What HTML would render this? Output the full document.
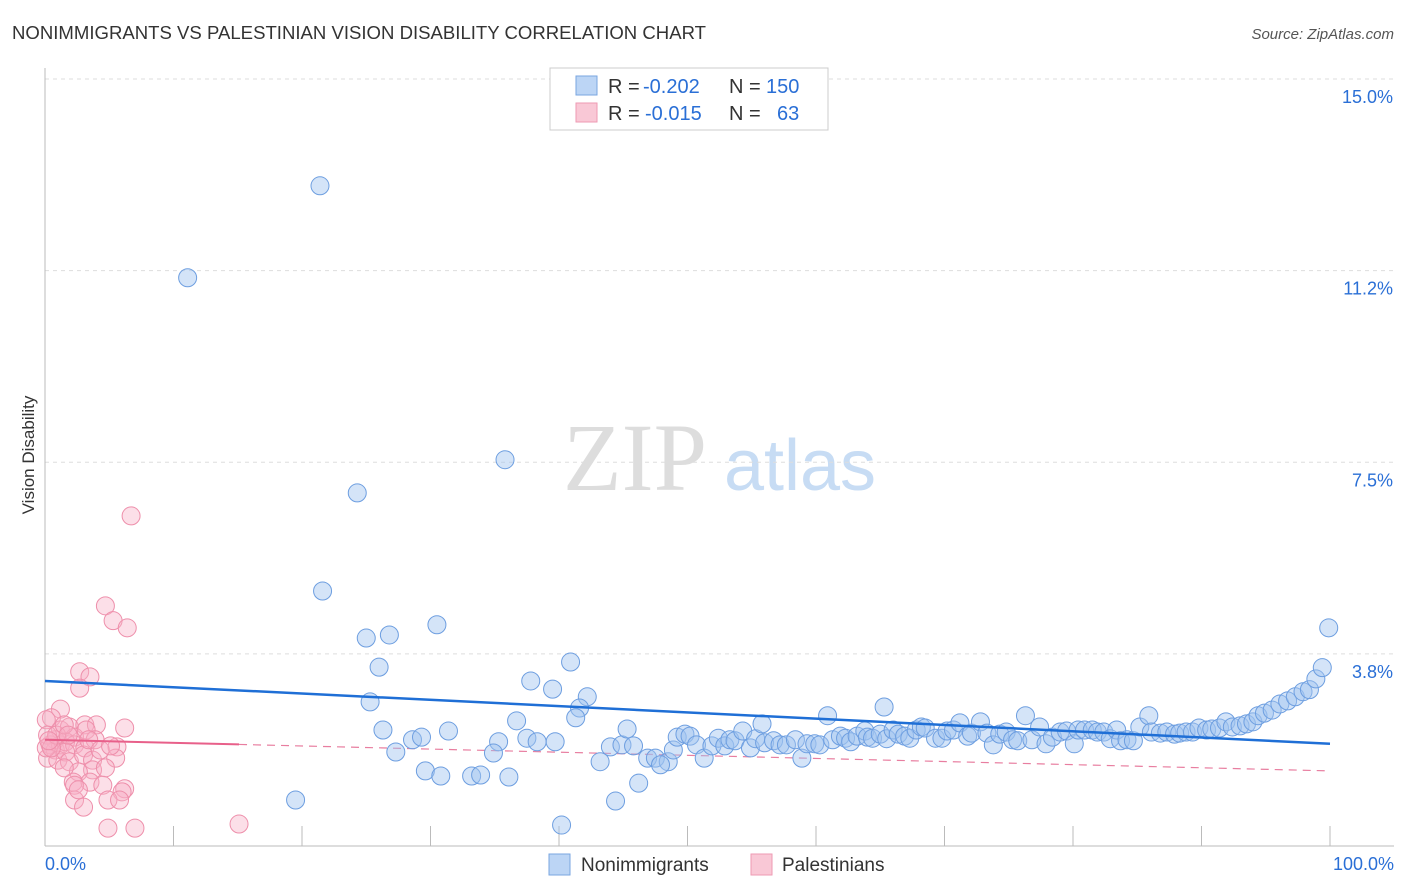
<!DOCTYPE html>
<html><head><meta charset="utf-8"><style>
body{margin:0;background:#fff;font-family:"Liberation Sans",sans-serif;}
#wrap{position:relative;width:1406px;height:892px;overflow:hidden;}
</style></head><body>
<div id="wrap">
<svg id="svg" width="1406" height="892" xmlns="http://www.w3.org/2000/svg">
<text x="12" y="39" font-size="18.5" fill="#333" textLength="694" lengthAdjust="spacingAndGlyphs">NONIMMIGRANTS VS PALESTINIAN VISION DISABILITY CORRELATION CHART</text>
<text x="1394" y="39" font-size="15" fill="#555" font-style="italic" text-anchor="end">Source: ZipAtlas.com</text>
<text transform="translate(34,455) rotate(-90)" font-size="17" fill="#333" text-anchor="middle">Vision Disability</text>
<g>
<text x="635" y="490" font-size="96" fill="#ddd" font-family="Liberation Serif,serif" text-anchor="middle">ZIP</text>
<text x="800" y="490" font-size="72" fill="#c7dcf4" text-anchor="middle">atlas</text>
</g>
<g id="grid"></g><g id="axes"></g><g id="lines"></g><g id="pink"></g><g id="blue"></g>
<g>
<rect x="550" y="68" width="278" height="62" fill="#fff" stroke="#ccc"/>
<rect x="576" y="76" width="21" height="19" fill="#bcd5f5" stroke="#7aa6e0"/>
<rect x="576" y="103" width="21" height="19" fill="#f9c8d6" stroke="#ee9ab3"/>
<text x="608" y="93" font-size="20" fill="#333">R =</text>
<text x="643" y="93" font-size="20" fill="#2a6fd6">-0.202</text>
<text x="729" y="93" font-size="20" fill="#333">N =</text>
<text x="766" y="93" font-size="20" fill="#2a6fd6">150</text>
<text x="608" y="120" font-size="20" fill="#333">R =</text>
<text x="645" y="120" font-size="20" fill="#2a6fd6">-0.015</text>
<text x="729" y="120" font-size="20" fill="#333">N =</text>
<text x="777" y="120" font-size="20" fill="#2a6fd6">63</text>
</g>
<g>
<rect x="549" y="854" width="21" height="21" fill="#bcd5f5" stroke="#7aa6e0"/>
<text x="581" y="871" font-size="19" fill="#333">Nonimmigrants</text>
<rect x="751" y="854" width="21" height="21" fill="#f9c8d6" stroke="#ee9ab3"/>
<text x="782" y="871" font-size="19" fill="#333">Palestinians</text>
</g>
</svg>
</div>
<script>
const yTicks=[3.8,7.5,11.2,15.0];
const yTickVals=[3.75,7.5,11.25,15.0];
const xTickLabels=["0.0%","100.0%"];
const blueX=[21.4,11.1,35.8,24.3,21.6,25.0,26.8,30.5,26.0,25.3,26.3,28.6,29.3,31.4,27.3,29.6,30.8,33.2,33.9,36.1,19.5,40.2,44.4,46.2,37.8,39.5,40.9,42.2,41.6,41.3,36.7,35.3,34.9,37.5,38.3,39.7,43.2,44.0,44.9,45.3,45.8,46.9,47.5,48.5,47.9,48.9,49.2,49.8,50.2,50.7,51.3,51.9,52.4,52.9,53.3,53.7,54.3,54.9,55.3,55.8,56.0,56.7,57.2,57.7,58.4,58.9,59.3,59.9,60.3,60.9,61.3,61.9,62.3,62.7,63.2,63.8,64.0,64.4,65.0,65.3,65.5,66.0,66.4,66.9,67.3,67.8,68.2,68.5,69.3,69.8,70.2,70.7,71.2,71.8,72.1,72.8,73.3,73.8,74.3,74.8,75.3,75.7,76.3,76.8,77.4,77.9,78.4,79.0,79.5,80.1,80.4,80.9,81.5,81.9,82.4,82.9,83.4,83.7,84.2,84.7,85.2,85.9,86.1,86.8,87.3,87.9,88.3,88.8,89.3,89.8,90.4,90.8,91.4,91.9,92.4,93.0,93.5,94.0,94.4,94.9,95.5,96.1,96.7,97.3,97.9,98.4,98.9,99.4,99.9];
const blueY=[12.91,11.11,7.55,6.90,4.98,4.06,4.12,4.32,3.49,2.81,2.26,2.07,2.12,2.24,1.83,1.46,1.36,1.36,1.38,1.34,0.89,0.40,0.87,1.22,3.22,3.06,3.59,2.91,2.69,2.50,2.44,2.03,1.81,2.10,2.03,2.03,1.64,1.93,1.97,2.28,1.95,1.71,1.71,1.64,1.58,1.87,2.12,2.18,2.14,1.97,1.71,1.95,2.10,1.95,2.07,2.05,2.24,1.91,2.09,2.38,2.01,2.05,1.97,1.97,2.07,1.71,1.99,1.99,1.97,2.54,2.07,2.14,2.10,2.03,2.14,2.24,2.12,2.10,2.18,2.71,2.09,2.26,2.18,2.14,2.10,2.26,2.32,2.30,2.10,2.10,2.24,2.26,2.40,2.14,2.20,2.42,2.20,1.97,2.18,2.22,2.07,2.05,2.54,2.07,2.32,1.99,2.12,2.22,2.24,1.99,2.26,2.26,2.26,2.22,2.22,2.09,2.26,2.05,2.07,2.05,2.32,2.54,2.22,2.20,2.22,2.18,2.20,2.22,2.22,2.30,2.26,2.28,2.30,2.42,2.32,2.34,2.38,2.42,2.54,2.59,2.65,2.77,2.83,2.91,3.01,3.05,3.26,3.48,4.26];
const pinkX=[4.7,5.3,6.4,2.7,3.5,2.7,1.2,0.5,1.2,1.9,3.1,4.0,2.3,3.2,6.2,0.8,0.4,0.8,1.2,1.6,2.3,3.1,3.9,5.6,5.5,0.2,1.0,1.6,1.9,3.0,3.7,3.7,4.7,2.6,2.2,3.5,2.3,4.5,6.2,6.0,2.3,3.0,4.9,5.8,4.9,7.0,15.1,6.7,0.1,0.2,0.1,0.5,0.9,1.5,1.8,3.4,4.3,5.1,1.5,2.6,0.3];
const pinkY=[4.69,4.40,4.26,3.40,3.30,3.08,2.67,2.50,2.26,2.32,2.36,2.36,2.12,2.26,2.30,2.07,1.97,1.87,1.97,2.03,1.97,1.91,2.07,1.93,1.71,1.71,1.67,1.83,1.64,1.77,1.67,1.48,1.52,1.44,1.24,1.24,1.18,1.18,1.11,1.05,0.89,0.75,0.89,0.89,0.34,0.34,0.42,6.45,2.46,2.16,1.91,1.91,2.16,2.36,2.16,2.07,1.87,1.95,1.52,1.09,2.05];
const blueTrend=[3.22,1.99];
const pinkTrend=[2.07,1.46];
const pinkSolidEnd=15.1;
const NS="http://www.w3.org/2000/svg";
const X0=45,X1=1330,YB=845.5,YT=79;
function sx(v){return X0+v/100*(X1-X0);}
function sy(v){return YB-v/15*(YB-YT);}
function mk(tag,attrs,parent){const e=document.createElementNS(NS,tag);for(const k in attrs)e.setAttribute(k,attrs[k]);document.getElementById(parent).appendChild(e);return e;}
yTickVals.forEach((v,i)=>{
 const g=mk('line',{x1:45,x2:1394,y1:sy(v),y2:sy(v),stroke:'#ddd','stroke-dasharray':'4,4'},'grid');
 
 
 const t=mk('text',{x:1393,y:sy(v)+24,'font-size':18,fill:'#2a6fd6','text-anchor':'end'},'grid');
 t.textContent=yTicks[i].toFixed(1)+'%';
 
 
});
const ax=mk('line',{x1:45,x2:45,y1:68,y2:846,stroke:'#bbb'},'axes');


const bx=mk('line',{x1:45,x2:1394,y1:846,y2:846,stroke:'#bbb'},'axes');


for(let i=1;i<=10;i++){const t=mk('line',{x1:sx(i*10),x2:sx(i*10),y1:826,y2:846,stroke:'#bbb'},'axes');
 
 }
[[0,'start',45],[100,'end',1394]].forEach((d,i)=>{const t=mk('text',{x:d[2],y:870,'font-size':18,fill:'#2a6fd6','text-anchor':d[1]},'axes');t.textContent=xTickLabels[i];
 
 });
const pd=mk('line',{x1:sx(pinkSolidEnd),y1:sy(pinkTrend[0]+(pinkTrend[1]-pinkTrend[0])*pinkSolidEnd/100),x2:sx(100),y2:sy(pinkTrend[1]),stroke:'#e87ea0','stroke-width':1.2,'stroke-dasharray':'8,6'},'lines');


pinkX.forEach((x,i)=>{const c=mk('circle',{cx:sx(x),cy:sy(pinkY[i]),r:9,fill:'rgba(248,175,198,0.4)',stroke:'#ee8fab','stroke-width':1},'pink');
 
 });
blueX.forEach((x,i)=>{const c=mk('circle',{cx:sx(x),cy:sy(blueY[i]),r:9,fill:'rgba(160,196,240,0.45)',stroke:'#6d9ee0','stroke-width':1},'blue');
 
 });
const ps=mk('line',{x1:sx(0),y1:sy(pinkTrend[0]),x2:sx(pinkSolidEnd),y2:sy(pinkTrend[0]+(pinkTrend[1]-pinkTrend[0])*pinkSolidEnd/100),stroke:'#e8608a','stroke-width':2},'blue');


const bt=mk('line',{x1:sx(0),y1:sy(blueTrend[0]),x2:sx(100),y2:sy(blueTrend[1]),stroke:'#1f6fd6','stroke-width':2.5},'blue');


</script>
</body></html>
